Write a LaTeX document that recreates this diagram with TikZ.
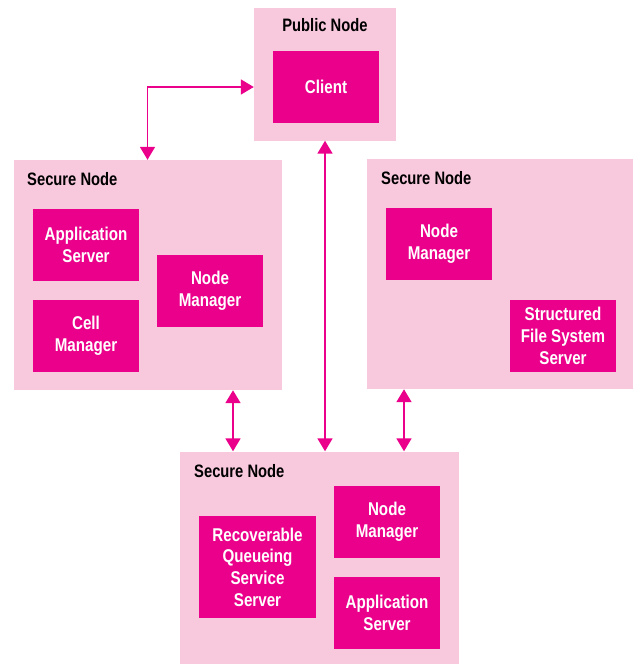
\documentclass[tikz,border=0pt]{standalone}
\usepackage{fontspec}
\setmainfont[FakeStretch=0.82]{Liberation Sans}
\usetikzlibrary{arrows.meta}
\definecolor{nodefill}{RGB}{248,201,221}
\definecolor{compfill}{RGB}{235,0,139}
\tikzset{
  hostbox/.style={fill=nodefill, draw=none, inner sep=0pt, minimum width=#1},
  compbox/.style={fill=compfill, draw=none, text=white, font=\fontsize{18.5}{21.7}\selectfont\bfseries,
                  align=center, inner sep=0pt, minimum width=106pt, minimum height=72pt},
  hosttitle/.style={anchor=base west, inner sep=0pt, text=black, font=\fontsize{18}{21.7}\selectfont\bfseries},
  link/.style={draw=compfill, line width=1.8pt,
               {Triangle[length=13pt,width=15pt]}-{Triangle[length=13pt,width=15pt]}},
}
\begin{document}
\begin{tikzpicture}[x=1pt, y=-1pt]
\useasboundingbox (0,0) rectangle (633,664);

% Public node with the client
\node[hostbox=142pt, minimum height=133pt] (pub) at (325,74) {};
\node[hosttitle, anchor=base] (pubt) at (325,31.5) {Public Node};
\node[compbox] (client) at (326,87) {Client};

% Left secure node
\node[hostbox=268pt, minimum height=230pt] (ls) at (148,275) {};
\node[hosttitle] (lst) at (27,185) {Secure Node};
\node[compbox] (lapp) at (86,245) {Application\\Server};
\node[compbox] (lcell) at (86,336) {Cell\\Manager};
\node[compbox] (lnm) at (210,291) {Node\\Manager};

% Right secure node
\node[hostbox=266pt, minimum height=230pt] (rs) at (500,274) {};
\node[hosttitle] (rst) at (381,184) {Secure Node};
\node[compbox] (rnm) at (439,244) {Node\\Manager};
\node[compbox] (rsfs) at (563,336) {Structured\\File System\\Server};

% Bottom secure node
\node[hostbox=279pt, minimum height=212pt] (bs) at (319.5,557.5) {};
\node[hosttitle] (bst) at (194,477) {Secure Node};
\node[compbox, minimum width=117pt, minimum height=102pt] (brqs) at (257.5,567) {Recoverable\\Queueing\\Service\\Server};
\node[compbox] (bnm) at (387,522) {Node\\Manager};
\node[compbox] (bapp) at (387,613) {Application\\Server};

% Connector positions
\coordinate (xl) at (147.5,0);
\coordinate (xa) at (233,0);
\coordinate (xm) at (325,0);
\coordinate (xr) at (404,0);

% Connectors between nodes
\draw[link] (ls.north -| xl) |- (pub.west |- client);
\draw[link] (ls.south -| xa) -- (bs.north -| xa);
\draw[link] (pub.south -| xm) -- (bs.north -| xm);
\draw[link] (rs.south -| xr) -- (bs.north -| xr);
\end{tikzpicture}
\end{document}
